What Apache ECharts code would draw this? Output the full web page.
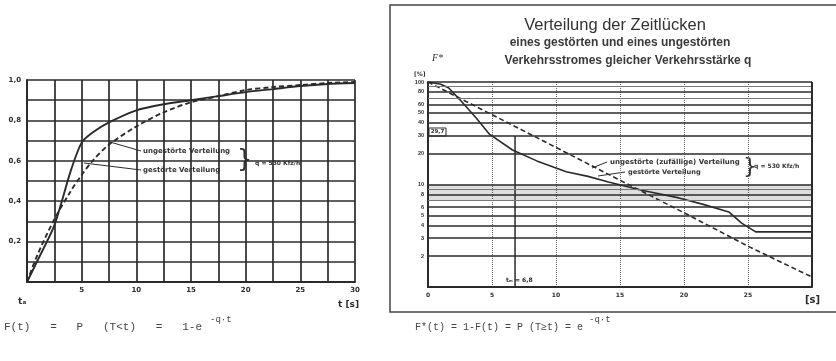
<!DOCTYPE html>
<html><head><meta charset="utf-8">
<script src="https://cdn.jsdelivr.net/npm/echarts@6/dist/echarts.min.js"></script>
<style>html,body{margin:0;padding:0;background:#fff}#c{width:836px;height:361px}</style>
</head><body><div id="c"></div>
<script>
// ---- left chart: F(t) cumulative distribution ----
const leftT = [0, 1, 2.5, 4, 5, 6, 7.5, 10, 12.5, 15, 17.5, 20, 22.5, 25, 27.5, 30];
const leftDisturbed = [0, 0.11, 0.28, 0.55, 0.69, 0.74, 0.79, 0.85, 0.88, 0.90, 0.92, 0.94, 0.955, 0.97, 0.98, 0.985];
const leftUndisturbed = [0, 0.14, 0.31, 0.45, 0.53, 0.60, 0.68, 0.77, 0.84, 0.89, 0.92, 0.95, 0.965, 0.975, 0.985, 0.99];
const leftYTicks = [0.2, 0.4, 0.6, 0.8, 1.0];
const leftXTicks = [5, 10, 15, 20, 25, 30];

// ---- right chart: F*(t) in %, log scale ----
const rightTUndisturbed = [0, 5, 10, 15, 20, 25, 30];
const rightUndisturbed = [100, 48, 23, 11, 5.3, 2.5, 1.25];
const rightTDisturbed = [0, 1, 1.6, 2.5, 3.8, 4.8, 6.6, 8.5, 10.8, 12.5, 14.1, 16.7, 19.6, 21.5, 23.5, 24.5, 25.6, 30];
const rightDisturbed = [100, 95, 88, 67, 44, 31, 21.7, 17, 13.3, 12, 10.6, 8.8, 7.4, 6.4, 5.4, 4.2, 3.45, 3.45];
const rightYTicks = [2, 3, 4, 5, 6, 8, 10, 20, 30, 40, 50, 60, 80, 100];
const rightMinorLines = [7, 9, 70, 90];
const rightXTicks = [0, 5, 10, 15, 20, 25];
const tMean = 6.8;
const tMeanLevel = 29.7;

const ink = '#2b2b2b';
const chart = echarts.init(document.getElementById('c'));
const zip = (a, b) => a.map((v, i) => [v, b[i]]);

const option = {
  backgroundColor: '#fff',
  animation: false,
  grid: [
    {left: 27, top: 80, width: 328, height: 202},
    {left: 428, top: 82, width: 384, height: 205}
  ],
  xAxis: [
    {gridIndex: 0, type: 'value', min: 0, max: 30, interval: 2.5,
     axisLine: {lineStyle: {color: ink, width: 2}}, axisTick: {show: false},
     splitLine: {show: true, lineStyle: {color: ink, width: 1.7}},
     axisLabel: {color: ink, fontSize: 7, fontWeight: 'bold', margin: 5, fontFamily: 'DejaVu Sans',
       formatter: v => leftXTicks.includes(v) ? String(v) : ''}},
    {gridIndex: 1, type: 'value', min: 0, max: 30, interval: 5,
     axisLine: {lineStyle: {color: ink, width: 2}}, axisTick: {show: false},
     splitLine: {show: true, lineStyle: {color: '#666', width: 1, type: 'dotted'}},
     axisLabel: {color: ink, fontSize: 6, fontWeight: 'bold', margin: 5, fontFamily: 'DejaVu Sans',
       formatter: v => rightXTicks.includes(v) ? String(v) : ''}}
  ],
  yAxis: [
    {gridIndex: 0, type: 'value', min: 0, max: 1, interval: 0.1,
     axisLine: {show: true, lineStyle: {color: ink, width: 2}}, axisTick: {show: false},
     splitLine: {show: true, lineStyle: {color: ink, width: 1.7}},
     axisLabel: {color: ink, fontSize: 7, fontWeight: 'bold', margin: 6, fontFamily: 'DejaVu Sans',
       formatter: v => leftYTicks.some(t => Math.abs(t - v) < 1e-6) ? v.toFixed(1).replace('.', ',') : ''}},
    {gridIndex: 1, type: 'log', logBase: 10, min: 1, max: 100,
     axisLine: {show: true, lineStyle: {color: ink, width: 2}}, axisTick: {show: false},
     splitLine: {show: false}, axisLabel: {show: false}}
  ],
  series: [
    {type: 'line', xAxisIndex: 0, yAxisIndex: 0, data: zip(leftT, leftDisturbed), symbol: 'none', smooth: 0.25,
     lineStyle: {color: ink, width: 1.9}},
    {type: 'line', xAxisIndex: 0, yAxisIndex: 0, data: zip(leftT, leftUndisturbed), symbol: 'none', smooth: 0.3,
     lineStyle: {color: ink, width: 1.9, type: [5, 3]}},
    {type: 'line', xAxisIndex: 1, yAxisIndex: 1, data: zip(rightTUndisturbed, rightUndisturbed), symbol: 'none',
     lineStyle: {color: ink, width: 1.6, type: [5, 3]}},
    {type: 'line', xAxisIndex: 1, yAxisIndex: 1, data: zip(rightTDisturbed, rightDisturbed), symbol: 'none',
     lineStyle: {color: ink, width: 1.6},
     markArea: {silent: true, itemStyle: {color: 'rgba(0,0,0,0.13)'}, data: [[{yAxis: 7}, {yAxis: 10}]]},
     markLine: {silent: true, symbol: 'none', animation: false,
       data: rightYTicks.map(v => ({yAxis: v, lineStyle: {color: ink, width: 1.5, type: 'solid'},
               label: {show: true, position: 'start', formatter: String(v), fontSize: 5.5, fontWeight: 'bold', color: ink, distance: 4}}))
         .concat(rightMinorLines.map(v => ({yAxis: v, lineStyle: {color: '#777', width: 1, type: 'solid'}, label: {show: false}})))
         .concat([{xAxis: 30, lineStyle: {color: ink, width: 2, type: 'solid'}, label: {show: false}}])}},
    {type: 'line', xAxisIndex: 1, yAxisIndex: 1, data: [[tMean, tMeanLevel], [tMean, 1]], symbol: 'none',
     lineStyle: {color: ink, width: 1.5}}
  ],
  graphic: [
    {type: 'rect', shape: {x: 390, y: 5, width: 460, height: 307}, style: {fill: 'none', stroke: '#444', lineWidth: 1.5}},
    {type: 'text', x: 615, y: 25, style: {text: 'Verteilung der Zeitlücken', font: '16.5px "Liberation Sans"', fill: '#333', textAlign: 'center', textVerticalAlign: 'middle'}},
    {type: 'text', x: 620, y: 43, style: {text: 'eines gestörten und eines ungestörten', font: 'bold 12px "Liberation Sans"', fill: '#3a3a3a', textAlign: 'center', textVerticalAlign: 'middle'}},
    {type: 'text', x: 628, y: 61, style: {text: 'Verkehrsstromes gleicher Verkehrsstärke q', font: 'bold 12px "Liberation Sans"', fill: '#3a3a3a', textAlign: 'center', textVerticalAlign: 'middle'}},
    {type: 'text', x: 432, y: 58, style: {text: 'F*', font: 'italic 10px "Liberation Serif"', fill: '#333', textVerticalAlign: 'middle'}},
    {type: 'text', x: 414, y: 74, style: {text: '[%]', font: 'bold 6px "DejaVu Sans"', fill: '#333', textVerticalAlign: 'middle'}},
    {type: 'rect', shape: {x: 429, y: 128, width: 17, height: 8}, style: {fill: '#fff', stroke: ink, lineWidth: 1}},
    {type: 'text', x: 437.5, y: 132, style: {text: '29,7', font: 'bold 5.5px "DejaVu Sans"', fill: ink, textAlign: 'center', textVerticalAlign: 'middle'}},
    {type: 'text', x: 506, y: 280, style: {text: 'tₘ = 6,8', font: 'bold 6px "DejaVu Sans"', fill: ink, textVerticalAlign: 'middle'}},
    {type: 'text', x: 610, y: 162, style: {text: 'ungestörte (zufällige) Verteilung', font: 'bold 7px "DejaVu Sans"', fill: '#333', textVerticalAlign: 'middle'}},
    {type: 'text', x: 628, y: 172, style: {text: 'gestörte Verteilung', font: 'bold 6.6px "DejaVu Sans"', fill: '#333', textVerticalAlign: 'middle'}},
    {type: 'text', x: 743, y: 167, style: {text: '}', font: '22px "DejaVu Sans"', fill: '#333', textVerticalAlign: 'middle'}},
    {type: 'text', x: 754, y: 166, style: {text: 'q = 530 Kfz/h', font: 'bold 6px "DejaVu Sans"', fill: '#333', textVerticalAlign: 'middle'}},
    {type: 'line', shape: {x1: 607, y1: 162, x2: 592, y2: 168}, style: {stroke: ink, lineWidth: 1}},
    {type: 'line', shape: {x1: 625, y1: 172, x2: 598, y2: 176}, style: {stroke: ink, lineWidth: 1}},
    {type: 'text', x: 805, y: 300, style: {text: '[s]', font: 'bold 10px "DejaVu Sans"', fill: ink, textVerticalAlign: 'middle'}},
    {type: 'text', x: 143, y: 151, style: {text: 'ungestörte Verteilung', font: 'bold 7px "DejaVu Sans"', fill: '#333', textVerticalAlign: 'middle'}},
    {type: 'text', x: 143, y: 170, style: {text: 'gestörte Verteilung', font: 'bold 7px "DejaVu Sans"', fill: '#333', textVerticalAlign: 'middle'}},
    {type: 'text', x: 237, y: 161, style: {text: '}', font: '24px "DejaVu Sans"', fill: '#333', textVerticalAlign: 'middle'}},
    {type: 'text', x: 255, y: 163, style: {text: 'q = 530 Kfz/h', font: 'bold 6px "DejaVu Sans"', fill: '#333', textVerticalAlign: 'middle'}},
    {type: 'line', shape: {x1: 141, y1: 151, x2: 110, y2: 142}, style: {stroke: ink, lineWidth: 1}},
    {type: 'line', shape: {x1: 141, y1: 170, x2: 84, y2: 163}, style: {stroke: ink, lineWidth: 1}},
    {type: 'text', x: 338, y: 305, style: {text: 't [s]', font: 'bold 9px "DejaVu Sans"', fill: ink, textVerticalAlign: 'middle'}},
    {type: 'text', x: 18, y: 302, style: {text: 'tₐ', font: 'bold 9px "DejaVu Sans"', fill: ink, textVerticalAlign: 'middle'}},
    {type: 'text', x: 4, y: 327, style: {text: 'F(t)   =   P   (T<t)   =   1-e', font: '11px "Liberation Mono"', fill: '#444', textVerticalAlign: 'middle'}},
    {type: 'text', x: 210, y: 320, style: {text: '-q·t', font: '9px "Liberation Mono"', fill: '#444', textVerticalAlign: 'middle'}},
    {type: 'text', x: 415, y: 327, style: {text: 'F*(t) = 1-F(t) = P (T≥t) = e', font: '10px "Liberation Mono"', fill: '#444', textVerticalAlign: 'middle'}},
    {type: 'text', x: 589, y: 320, style: {text: '-q·t', font: '9px "Liberation Mono"', fill: '#444', textVerticalAlign: 'middle'}}
  ]
};
chart.setOption(option);
</script></body></html>
